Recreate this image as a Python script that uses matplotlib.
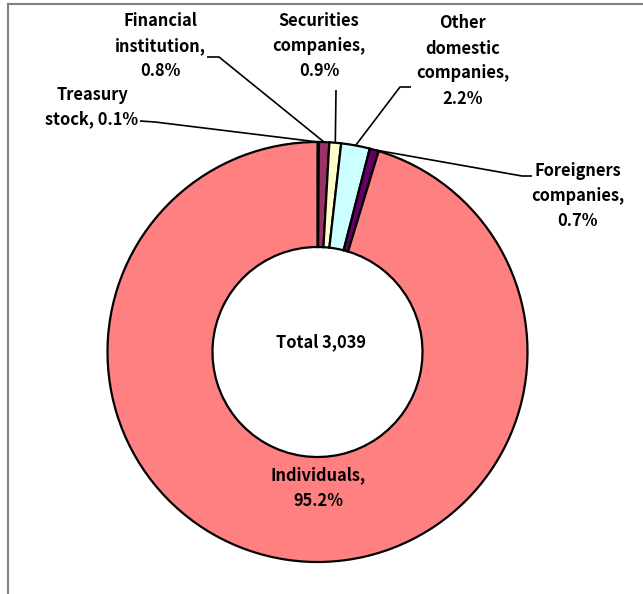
import numpy as np
import matplotlib.pyplot as plt
from matplotlib.lines import Line2D

plt.rcParams['font.family'] = ['Noto Sans CJK JP', 'DejaVu Sans']

# Shareholder breakdown (share of holders, %)
categories = ['Treasury\nstock', 'Financial\ninstitution', 'Securities\ncompanies',
              'Other\ndomestic\ncompanies', 'Foreigners\ncompanies', 'Individuals']
shares = [0.1, 0.8, 0.9, 2.2, 0.7, 95.2]
colors = ['#9999FF', '#993366', '#FFFFCC', '#CCFFFF', '#660066', '#FF8080']
total_label = 'Total 3,039'

W, H = 643, 594
fig = plt.figure(figsize=(W / 100, H / 100), dpi=100)
ax = fig.add_axes([0, 0, 1, 1])

def py(y):
    # pixel row -> data y (y axis points up)
    return H - y

cx, cy, r = 317.5, 352, 210
wedges, _ = ax.pie(shares, colors=colors, startangle=90, counterclock=False,
                   center=(cx, py(cy)), radius=r,
                   wedgeprops=dict(width=105, edgecolor='black', linewidth=1.6))
ax.set_xlim(0, W)
ax.set_ylim(0, H)
ax.set_aspect('equal')
ax.axis('off')

def edge_point(w):
    ang = np.deg2rad((w.theta1 + w.theta2) / 2)
    return cx + r * np.cos(ang), py(cy) + r * np.sin(ang)

FS = 11.8
LS = 1.5

# label text position (pixels) and leader path (pixels) ending on the wedge
labels = [
    ('Treasury\nstock, 0.1%', (92, 107), [(140, 121), (155, 122)]),
    ('Financial\ninstitution,\n0.8%', (160, 46), [(207, 57), (219, 57)]),
    ('Securities\ncompanies,\n0.9%', (319, 46), [(336, 90)]),
    ('Other\ndomestic\ncompanies,\n2.2%', (463, 61), [(411, 87), (400, 87)]),
    ('Foreigners\ncompanies,\n0.7%', (578, 196), [(532, 176), (522, 176)]),
]
for i, (txt, (tx, ty), path) in enumerate(labels):
    ax.text(tx, py(ty), txt, ha='center', va='center', fontsize=FS,
            fontweight='bold', linespacing=LS)
    ex, ey = edge_point(wedges[i])
    xs = [p[0] for p in path] + [ex]
    ys = [py(p[1]) for p in path] + [ey]
    ax.plot(xs, ys, color='black', lw=1.2, solid_capstyle='butt')

ax.text(cx + 3, py(342), total_label, ha='center', va='center',
        fontsize=FS, fontweight='bold')
ax.text(cx + 1, py(488), 'Individuals,\n95.2%', ha='center', va='center',
        fontsize=FS, fontweight='bold', linespacing=LS)

# chart area frame (only top and left edges visible)
fig.add_artist(Line2D([8 / W, 1], [1 - 4 / H, 1 - 4 / H], color='#808080', lw=1.5))
fig.add_artist(Line2D([8 / W, 8 / W], [0, 1 - 4 / H], color='#808080', lw=1.5))

fig.savefig('out.png', dpi=100)
